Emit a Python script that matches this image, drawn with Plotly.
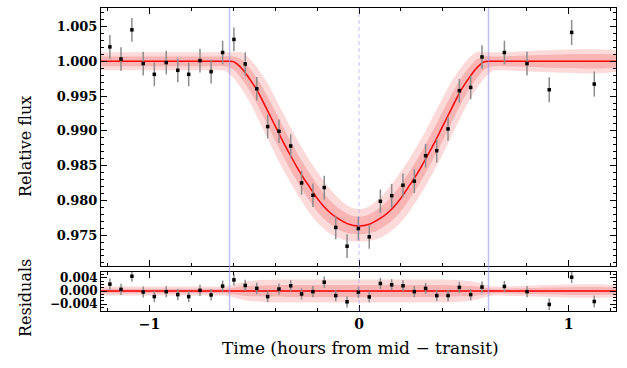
import plotly.graph_objects as go

# ---------------- data ----------------
time_h = [-1.189, -1.136, -1.084, -1.030, -0.977, -0.920, -0.865, -0.813, -0.759, -0.706,
          -0.651, -0.597, -0.543, -0.488, -0.436, -0.382, -0.326, -0.274, -0.220, -0.166,
          -0.111, -0.057, -0.003, 0.049, 0.102, 0.156, 0.210, 0.264, 0.318, 0.371,
          0.425, 0.479, 0.533, 0.587, 0.694, 0.802, 0.908, 1.015, 1.123]
flux = [1.00207, 1.00033, 1.00452, 0.99967, 0.99812, 0.99981, 0.99870, 0.99812, 1.00010, 0.99851,
        1.00126, 1.00314, 0.99961, 0.99605, 0.99061, 0.98993, 0.98782, 0.98251, 0.98073, 0.98184,
        0.97610, 0.97341, 0.97595, 0.97475, 0.97986, 0.98068, 0.98217, 0.98275, 0.98642, 0.98714,
        0.99027, 0.99577, 0.99624, 1.00062, 1.00126, 0.99967, 0.99591, 1.00415, 0.99672]
flux_err = [0.0017, 0.0017, 0.0017, 0.0017, 0.0017, 0.0017, 0.0017, 0.0017, 0.0017, 0.0017,
            0.0017, 0.0017, 0.0017, 0.0017, 0.0017, 0.0017, 0.0017, 0.0017, 0.0017, 0.0017,
            0.0017, 0.0017, 0.0017, 0.0017, 0.0017, 0.0017, 0.0017, 0.0017, 0.0017, 0.0017,
            0.0017, 0.0017, 0.0017, 0.0017, 0.0017, 0.0017, 0.0018, 0.0018, 0.0018]
resid = [0.0021, 0.0005, 0.0045, -0.0003, -0.0017, -0.0002, -0.0011, -0.0017, 0.0002, -0.0012,
         0.0015, 0.0034, 0.0017, 0.0008, -0.0017, 0.0006, 0.0016, -0.0009, -0.0002, 0.0027,
         -0.0014, -0.0033, -0.0004, -0.0018, 0.0023, 0.0019, 0.0016, -0.0002, 0.0008, -0.0014,
         -0.0014, 0.0011, -0.0011, 0.0012, 0.0014, -0.0002, -0.0041, 0.0042, -0.0032]

# best-fit transit model
model_t = [-1.25, -0.70, -0.618, -0.600, -0.584, -0.552, -0.520, -0.488, -0.457, -0.425,
           -0.393, -0.361, -0.329, -0.297, -0.266, -0.234, -0.202, -0.170, -0.138, -0.106,
           -0.057, 0.0, 0.057, 0.106, 0.138, 0.170, 0.202, 0.234, 0.266, 0.297,
           0.329, 0.361, 0.393, 0.425, 0.457, 0.488, 0.520, 0.552, 0.584, 0.600,
           0.618, 0.70, 1.25]
model_f = [1.0, 1.0, 1.0, 0.99995, 0.99967, 0.99870, 0.99736, 0.99591, 0.99412, 0.99220,
           0.99027, 0.98834, 0.98656, 0.98483, 0.98328, 0.98184, 0.98039, 0.97919, 0.97822, 0.97750,
           0.97666, 0.97630, 0.97666, 0.97750, 0.97822, 0.97919, 0.98039, 0.98184, 0.98328, 0.98483,
           0.98656, 0.98834, 0.99027, 0.99220, 0.99412, 0.99591, 0.99736, 0.99870, 0.99967, 0.99995,
           1.0, 1.0, 1.0]

# credible bands of the model
band_t = [-1.25, -0.68, -0.64, -0.60, -0.56, -0.52, -0.48, -0.44, -0.40, -0.36,
          -0.32, -0.28, -0.24, -0.20, -0.16, -0.12, -0.08, -0.04, 0.0, 0.04,
          0.08, 0.12, 0.16, 0.20, 0.24, 0.28, 0.32, 0.36, 0.40, 0.44,
          0.48, 0.52, 0.56, 0.60, 0.64, 0.68, 1.25]
light_hi = [1.0013, 1.0013, 1.0013, 1.0013, 1.00129, 1.00034, 0.99883, 0.99701, 0.99475, 0.99244,
            0.99011, 0.98798, 0.98596, 0.98416, 0.98242, 0.98100, 0.97985, 0.97900, 0.97870, 0.97900,
            0.97985, 0.98100, 0.98242, 0.98416, 0.98596, 0.98798, 0.99011, 0.99244, 0.99475, 0.99701,
            0.99883, 1.00034, 1.00129, 1.0013, 1.0013, 1.0013, 1.0013]
light_lo = [0.9987, 0.9987, 0.99865, 0.99764, 0.99602, 0.99405, 0.99163, 0.98913, 0.98663, 0.98432,
            0.98215, 0.98020, 0.97834, 0.97684, 0.97571, 0.97491, 0.97438, 0.97411, 0.97410, 0.97411,
            0.97438, 0.97491, 0.97571, 0.97684, 0.97834, 0.98020, 0.98215, 0.98432, 0.98663, 0.98913,
            0.99163, 0.99405, 0.99602, 0.99764, 0.99865, 0.9987, 0.9987]
dark_hi = [1.0007, 1.0007, 1.0007, 1.0007, 1.00027, 0.99896, 0.99725, 0.99514, 0.99280, 0.99044,
           0.98816, 0.98603, 0.98409, 0.98233, 0.98071, 0.97945, 0.97850, 0.97785, 0.97763, 0.97785,
           0.97850, 0.97945, 0.98071, 0.98233, 0.98409, 0.98603, 0.98816, 0.99044, 0.99280, 0.99514,
           0.99725, 0.99896, 1.00027, 1.0007, 1.0007, 1.0007, 1.0007]
dark_lo = [0.9993, 0.9993, 0.9993, 0.99885, 0.99748, 0.99569, 0.99349, 0.99105, 0.98859, 0.98622,
           0.98400, 0.98197, 0.98013, 0.97844, 0.97713, 0.97623, 0.97553, 0.97523, 0.97510, 0.97523,
           0.97553, 0.97623, 0.97713, 0.97844, 0.98013, 0.98197, 0.98400, 0.98622, 0.98859, 0.99105,
           0.99349, 0.99569, 0.99748, 0.99885, 0.9993, 0.9993, 0.9993]

# residual-panel bands (half widths)
rband_t = [-1.25, -0.66, -0.62, -0.58, -0.54, -0.50, -0.45, -0.35, -0.20, 0.0,
           0.20, 0.35, 0.45, 0.50, 0.54, 0.58, 0.62, 0.66, 1.25]
rlight_w = [0.0014, 0.0014, 0.0016, 0.0023, 0.0029, 0.0032, 0.0034, 0.0035, 0.0035, 0.0035,
            0.0035, 0.0035, 0.0034, 0.0032, 0.0029, 0.0023, 0.0016, 0.0014, 0.0014]
rdark_w = [0.0007, 0.0007, 0.0008, 0.0012, 0.0015, 0.0016, 0.0017, 0.0018, 0.0018, 0.0018,
           0.0018, 0.0018, 0.0017, 0.0016, 0.0015, 0.0012, 0.0008, 0.0007, 0.0007]

contact_t = [-0.618, 0.618]
mid_t = 0.0
zero_line_t = [-1.25, 1.25]
zero_line_v = [0.0, 0.0]

y_ticks_main = [0.975, 0.980, 0.985, 0.990, 0.995, 1.000, 1.005]
y_ticks_res = [-0.004, 0.0, 0.004]
x_ticks = [-1, 0, 1]

# ---------------- styling ----------------
LIGHT = "rgb(252,218,218)"
DARK = "rgb(249,180,180)"
RED = "#ff0000"
ERRC = "#8c8c8c"
VLINE = "rgba(150,150,245,0.6)"
FONT = "DejaVu Serif"

W, H = 627, 368
ML, MR, MT, MB = 101, 11, 8, 57

fig = go.Figure()


def band(xs, hi, lo, color, yaxis):
    fig.add_trace(go.Scatter(
        x=list(xs) + list(xs)[::-1], y=list(hi) + list(lo)[::-1],
        fill="toself", fillcolor=color, mode="lines",
        line=dict(width=0, shape="spline", smoothing=0.6),
        hoverinfo="skip", showlegend=False, xaxis="x" if yaxis == "y" else "x2", yaxis=yaxis))


# main panel
band(band_t, light_hi, light_lo, LIGHT, "y")
band(band_t, dark_hi, dark_lo, DARK, "y")
fig.add_trace(go.Scatter(x=model_t, y=model_f, mode="lines",
                         line=dict(color=RED, width=1.5, shape="spline", smoothing=0.6),
                         showlegend=False, xaxis="x", yaxis="y"))
fig.add_trace(go.Scatter(x=time_h, y=flux, mode="markers",
                         marker=dict(color="black", size=3.5, symbol="square"),
                         error_y=dict(type="data", array=flux_err, color=ERRC, thickness=1.5, width=0),
                         showlegend=False, xaxis="x", yaxis="y"))

# residual panel
band(rband_t, rlight_w, [-w for w in rlight_w], LIGHT, "y2")
band(rband_t, rdark_w, [-w for w in rdark_w], DARK, "y2")
fig.add_trace(go.Scatter(x=zero_line_t, y=zero_line_v, mode="lines",
                         line=dict(color=RED, width=1.5), showlegend=False,
                         xaxis="x2", yaxis="y2"))
fig.add_trace(go.Scatter(x=time_h, y=resid, mode="markers",
                         marker=dict(color="black", size=3.5, symbol="square"),
                         error_y=dict(type="data", array=flux_err, color=ERRC, thickness=1.5, width=0),
                         showlegend=False, xaxis="x2", yaxis="y2"))

for t in contact_t:
    fig.add_shape(type="line", xref="x", yref="paper", x0=t, x1=t, y0=0, y1=1,
                  line=dict(color=VLINE, width=1.5))
fig.add_shape(type="line", xref="x", yref="paper", x0=mid_t, x1=mid_t, y0=0, y1=1,
              line=dict(color=VLINE, width=1, dash="4px,3px"))

XR = [-1.2315, 1.2267]
tickfont = dict(family=FONT, size=13, color="black", weight="bold")
axis_common = dict(showline=True, linecolor="black", linewidth=1, mirror="allticks",
                   ticks="inside", ticklen=6, tickcolor="black", showgrid=False,
                   zeroline=False, automargin=False)

fig.update_layout(
    width=W, height=H,
    margin=dict(l=ML, r=MR, t=MT, b=MB),
    paper_bgcolor="white", plot_bgcolor="white",
    xaxis=dict(domain=[0, 1], anchor="y", range=XR, tickvals=x_ticks, showticklabels=False,
               minor=dict(dtick=0.2, tick0=0, ticks="inside", ticklen=3, tickcolor="black"),
               **axis_common),
    yaxis=dict(domain=[0.1485, 1], anchor="x", range=[0.97056, 1.00766], tickvals=y_ticks_main,
               tickformat=".3f", tickfont=tickfont,
               minor=dict(dtick=0.001, tick0=0.975, ticks="inside", ticklen=3, tickcolor="black"),
               **axis_common),
    xaxis2=dict(domain=[0, 1], anchor="y2", range=XR, tickvals=x_ticks, ticktext=["\u22121", "0", "1"],
                tickfont=dict(family=FONT, size=14, color="black", weight="bold"),
                minor=dict(dtick=0.2, tick0=0, ticks="inside", ticklen=3, tickcolor="black"),
                **axis_common),
    yaxis2=dict(domain=[0, 0.1287], anchor="x2", range=[-0.0061, 0.0058], tickvals=y_ticks_res,
                tickformat=".3f", tickfont=dict(family=FONT, size=12, color="black", weight="bold"),
                minor=dict(dtick=0.001, tick0=0, ticks="inside", ticklen=3, tickcolor="black"),
                **axis_common),
)

pw, ph = W - ML - MR, H - MT - MB


def px_annot(text, px, py, angle=0, size=16):
    fig.add_annotation(text=text, x=(px - ML) / pw, y=(H - MB - py) / ph,
                       xref="paper", yref="paper", xanchor="center", yanchor="middle",
                       showarrow=False, textangle=angle,
                       font=dict(family=FONT, size=size, color="black"))


px_annot("Relative flux", 25, 147, -90)
px_annot("Residuals", 25, 298, -90)
px_annot("Time (hours from mid \u2212 transit)", 360, 348, 0, 17)

fig.write_html("out.html", config={"displayModeBar": False},
               post_script="document.body.style.margin='0';")
